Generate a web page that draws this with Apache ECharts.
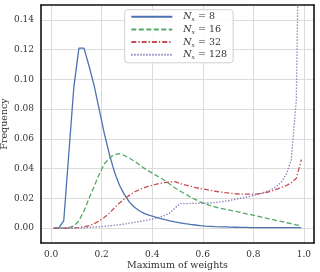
<!DOCTYPE html>
<html><head><meta charset="utf-8">
<script src="https://cdn.jsdelivr.net/npm/echarts@6/dist/echarts.min.js"></script>
<style>html,body{margin:0;padding:0;background:#fff;}#c{width:320px;height:272px;}</style>
</head><body><div id="c"></div>
<script>
const xs = [0.01,0.03,0.05,0.07,0.09,0.11,0.13,0.15,0.17,0.19,0.21,0.23,0.25,0.27,0.29,0.31,0.33,0.35,0.37,0.39,0.41,0.43,0.45,0.47,0.49,0.51,0.53,0.55,0.57,0.59,0.61,0.63,0.65,0.67,0.69,0.71,0.73,0.75,0.77,0.79,0.81,0.83,0.85,0.87,0.89,0.91,0.93,0.95,0.97,0.99];
const n8 = [0,0,0.005,0.05,0.095,0.121,0.121,0.109,0.096,0.08,0.064,0.05,0.038,0.029,0.0225,0.0175,0.014,0.0115,0.0097,0.0085,0.0075,0.0066,0.0057,0.0049,0.0042,0.0036,0.003,0.0025,0.0021,0.0017,0.0014,0.0012,0.001,0.0009,0.0008,0.0007,0.0006,0.0005,0.0005,0.0004,0.0004,0.0004,0.0004,0.0004,0.0003,0.0003,0.0003,0.0003,0.0003,0.0003];
const n16 = [0,0,0,0.0003,0.0014,0.005,0.0115,0.02,0.028,0.036,0.043,0.047,0.0495,0.05,0.0488,0.047,0.045,0.0425,0.04,0.038,0.036,0.034,0.032,0.0295,0.027,0.025,0.023,0.021,0.0193,0.0177,0.0163,0.0152,0.0142,0.0133,0.0126,0.0119,0.0112,0.0105,0.0097,0.009,0.0082,0.0075,0.0067,0.006,0.0052,0.0045,0.0037,0.003,0.0022,0.0014];
const n32 = [0,0,0,0,0.0002,0.0004,0.0009,0.0017,0.003,0.0048,0.0072,0.01,0.0135,0.0168,0.0197,0.0222,0.0243,0.026,0.0273,0.0284,0.0293,0.03,0.0306,0.031,0.0313,0.03,0.029,0.0282,0.0273,0.0266,0.026,0.0254,0.0248,0.0243,0.0238,0.0234,0.0231,0.0229,0.0228,0.0228,0.0229,0.0232,0.0238,0.0248,0.026,0.0272,0.0285,0.0305,0.0335,0.046];
const n128 = [0,0,0,0,0.0001,0.0002,0.0003,0.0005,0.0007,0.0009,0.0012,0.0015,0.0019,0.0023,0.0028,0.0033,0.0038,0.0044,0.005,0.0057,0.0065,0.0074,0.0085,0.0102,0.0135,0.0164,0.0165,0.0166,0.0166,0.0167,0.0168,0.017,0.0172,0.0176,0.0181,0.0187,0.0194,0.0201,0.0208,0.0215,0.0224,0.0234,0.0245,0.0259,0.0278,0.0308,0.036,0.046,0.086,0.32];
const seriesNames = ['8','16','32','128'];
const xTickLabels = ['0.0','0.2','0.4','0.6','0.8','1.0'];
const yTickLabels = ['0.00','0.02','0.04','0.06','0.08','0.10','0.12','0.14'];

const FONT = 'DejaVu Serif';
const TXT = '#333333';
const colors = ['#4C72B0','#55A868','#C44E52','#8172B2'];
const dashes = ['solid',[5,2.5],[5,2,1.3,2],[1.3,1.7]];
const vals = [n8,n16,n32,n128];

function lookup(labels, v, step){
  const i = Math.round(v/step);
  if (Math.abs(v - i*step) > 1e-6 || i < 0 || i >= labels.length) return '';
  return labels[i];
}

const chart = echarts.init(document.getElementById('c'), null, {renderer:'canvas'});
const frameAxis = {show:true, onZero:false, lineStyle:{color:'#111', width:1.6}};
chart.setOption({
  animation:false,
  backgroundColor:'#fff',
  grid:{left:41, top:5, right:6, bottom:29, containLabel:false, outerBoundsMode:'none'},
  legend:{
    orient:'vertical', left:124.7, top:9.7,
    itemWidth:41, itemHeight:10, itemGap:0.7,
    padding:[1,6,2,5.6],
    backgroundColor:'rgba(255,255,255,0.85)',
    borderColor:'#d0d0d0', borderWidth:1, borderRadius:3,
    itemStyle:{opacity:0},
    data: seriesNames.map(n => 'N_x = ' + n),
    formatter: function(name){ return '{n|N}{s|x}{t|' + name.slice(3) + '}'; },
    textStyle:{
      fontFamily:FONT, fontSize:9, color:TXT, lineHeight:12, padding:[0,0,0,6],
      rich:{
        n:{fontFamily:FONT, fontSize:9.5, fontStyle:'italic', color:TXT, lineHeight:12},
        s:{fontFamily:FONT, fontSize:6, fontStyle:'italic', color:TXT, lineHeight:8, verticalAlign:'bottom'},
        t:{fontFamily:FONT, fontSize:9.5, color:TXT, lineHeight:12}
      }
    }
  },
  xAxis:[{
    type:'value', min:-0.04, max:1.04, splitNumber:5,
    name:'Maximum of weights', nameLocation:'middle', nameGap:18, nameMoveOverlap:false,
    nameTextStyle:{fontFamily:FONT, fontSize:9.5, color:TXT},
    axisLine:frameAxis, axisTick:{show:false},
    axisLabel:{fontFamily:FONT, fontSize:9, color:TXT, margin:7, showMinLabel:false, showMaxLabel:false,
      formatter:v => lookup(xTickLabels, v, 0.2)},
    splitLine:{show:true, showMinLine:false, showMaxLine:false, lineStyle:{color:'#dcdcdc', width:1}}
  },{
    type:'value', position:'top', min:-0.04, max:1.04,
    axisLine:frameAxis, axisTick:{show:false}, axisLabel:{show:false}, splitLine:{show:false}
  }],
  yAxis:[{
    type:'value', min:-0.01, max:0.15, splitNumber:8,
    name:'Frequency', nameLocation:'middle', nameGap:31, nameMoveOverlap:false,
    nameTextStyle:{fontFamily:FONT, fontSize:9.5, color:TXT},
    axisLine:frameAxis, axisTick:{show:false},
    axisLabel:{fontFamily:FONT, fontSize:9, color:TXT, margin:7, showMinLabel:false, showMaxLabel:false,
      formatter:v => lookup(yTickLabels, v, 0.02)},
    splitLine:{show:true, showMinLine:false, showMaxLine:false, lineStyle:{color:'#dcdcdc', width:1}}
  },{
    type:'value', position:'right', min:-0.01, max:0.15,
    axisLine:frameAxis, axisTick:{show:false}, axisLabel:{show:false}, splitLine:{show:false}
  }],
  series: vals.map((arr, k) => ({
    name:'N_x = ' + seriesNames[k],
    type:'line', xAxisIndex:0, yAxisIndex:0,
    data: xs.map((x, i) => [x, arr[i]]),
    symbol:'none', smooth:false, clip:true,
    lineStyle:{color:colors[k], width:1.3, type:dashes[k]},
    itemStyle:{color:colors[k]},
    z: 2 + k
  }))
});
</script></body></html>
